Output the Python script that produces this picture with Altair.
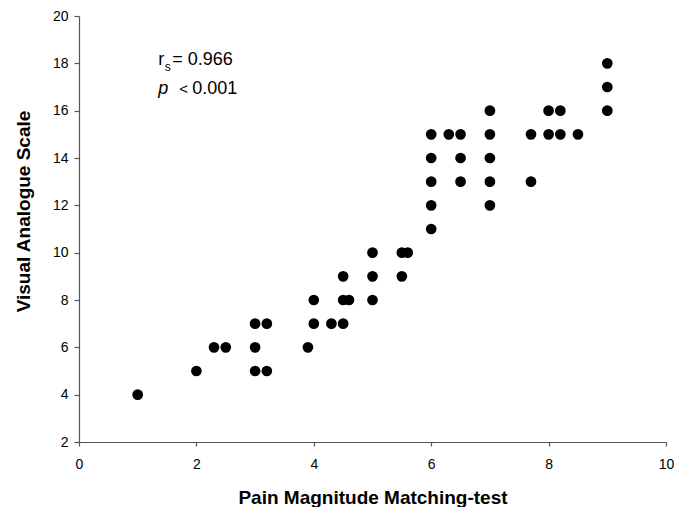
import altair as alt
import pandas as pd

# Data
pmm = [1, 2, 2.3, 2.5, 3, 3, 3, 3.2, 3.2, 3.9, 4, 4, 4.3, 4.5, 4.5, 4.5, 4.6,
       5, 5, 5, 5.5, 5.5, 5.6, 6, 6, 6, 6, 6, 6.3, 6.5, 6.5, 6.5,
       7, 7, 7, 7, 7, 7.7, 7.7, 8, 8, 8.2, 8.2, 8.5, 9, 9, 9]
vas = [4, 5, 6, 6, 5, 6, 7, 5, 7, 6, 7, 8, 7, 7, 8, 9, 8,
       8, 9, 10, 9, 10, 10, 11, 12, 13, 14, 15, 15, 13, 14, 15,
       12, 13, 14, 15, 16, 13, 15, 15, 16, 15, 16, 15, 16, 17, 18]

x_ticks = [0, 2, 4, 6, 8, 10]
y_ticks = [2, 4, 6, 8, 10, 12, 14, 16, 18, 20]

ann_x = [1.35, 1.35]
ann_y = [17.93, 16.72]

df = pd.DataFrame({"pmm": pmm, "vas": vas})
FONT = "Liberation Sans"

xs = alt.Scale(domain=[0, 10], nice=False, zero=False)
ys = alt.Scale(domain=[2, 20], nice=False, zero=False)

points = alt.Chart(df).mark_circle(size=115, color="black", opacity=1).encode(
    x=alt.X("pmm:Q", scale=xs,
            axis=alt.Axis(title="Pain Magnitude Matching-test", values=x_ticks,
                          format="d", labelFlush=False,
                          grid=False, tickSize=4, labelPadding=11,
                          titlePadding=17)),
    y=alt.Y("vas:Q", scale=ys,
            axis=alt.Axis(title="Visual Analogue Scale", values=y_ticks,
                          format="d", labelFlush=False,
                          grid=False, tickSize=5, labelPadding=6,
                          titlePadding=19, titleY=195)),
)

a1 = pd.DataFrame({"x": [ann_x[0]], "y": [ann_y[0]]})
a2 = pd.DataFrame({"x": [ann_x[1]], "y": [ann_y[1]]})

base1 = alt.Chart(a1).encode(x=alt.X("x:Q", scale=xs), y=alt.Y("y:Q", scale=ys))
base2 = alt.Chart(a2).encode(x=alt.X("x:Q", scale=xs), y=alt.Y("y:Q", scale=ys))

r_txt = base1.mark_text(text="r", align="left", baseline="alphabetic",
                        font=FONT, fontSize=18, color="black")
s_txt = base1.mark_text(text="s", align="left", baseline="alphabetic",
                        font=FONT, fontSize=12, color="black", dx=6.5, dy=6)
v_txt = base1.mark_text(text="= 0.966", align="left", baseline="alphabetic",
                        font=FONT, fontSize=18, color="black", dx=14)
p_txt = base2.mark_text(text="p", align="left", baseline="alphabetic",
                        font=FONT, fontSize=18, fontStyle="italic", color="black")
lt_txt = base2.mark_text(text="<", align="left", baseline="alphabetic",
                         font=FONT, fontSize=15, color="black", dx=21)
pv_txt = base2.mark_text(text="0.001", align="left", baseline="alphabetic",
                         font=FONT, fontSize=18, color="black", dx=34)

chart = alt.layer(points, r_txt, s_txt, v_txt, p_txt, lt_txt, pv_txt).properties(
    width=587, height=426,
    autosize=alt.AutoSizeParams(type="none"),
    padding={"left": 71, "top": 8, "right": 8, "bottom": 65},
).configure_view(stroke=None).configure_axis(
    domainColor="#555555", tickColor="#555555", domainWidth=1.2, tickWidth=1.2,
    labelFont=FONT, labelFontSize=14, labelColor="black",
    titleFont=FONT, titleFontSize=19, titleFontWeight="bold", titleColor="black",
)

chart.save("out.html", embed_options={"renderer": "svg", "actions": False})
